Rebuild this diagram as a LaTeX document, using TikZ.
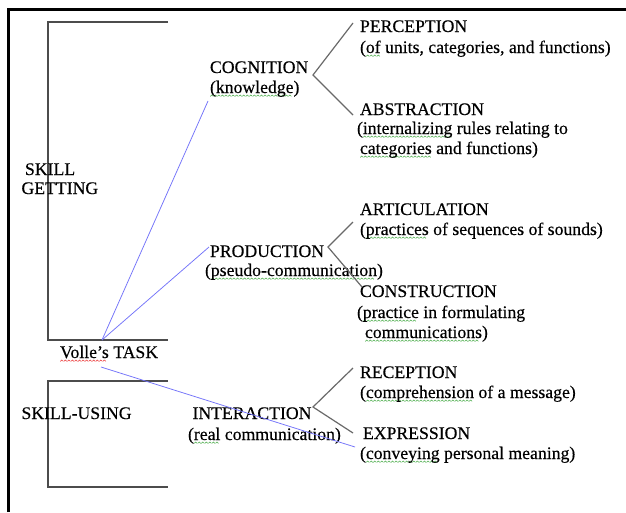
\documentclass[tikz,border=0pt]{standalone}
\usepackage{fontspec}
\setmainfont{Liberation Serif}[FakeBold=0.35]
\definecolor{sqgreen}{RGB}{80,175,80}
\definecolor{sqred}{RGB}{235,60,60}
\definecolor{linkblue}{RGB}{115,115,250}
\definecolor{forkgray}{RGB}{105,105,105}
\newsavebox\gwave
\newsavebox\rwave
\newcommand\makewave[2]{\sbox#1{\begin{pgfpicture}\pgfsetlinewidth{0.55pt}\pgfsetstrokecolor{#2}%
  \pgfpathmoveto{\pgfpoint{0pt}{0pt}}\pgfpathlineto{\pgfpoint{1.5pt}{1.3pt}}\pgfpathlineto{\pgfpoint{3pt}{0pt}}%
  \pgfusepath{stroke}\end{pgfpicture}}}
\newcommand\sqline[2]{\setbox0\hbox{#2}\rlap{\lower3.6pt\hbox to \wd0{\leaders\copy#1\hfill}}\box0\relax}
\newcommand\gsq[1]{\sqline\gwave{#1}}
\newcommand\rsq[1]{\sqline\rwave{#1}}
\begin{document}
\makewave\gwave{sqgreen}\makewave\rwave{sqred}%
\begin{tikzpicture}[x=1pt,y=-1pt,
  txt/.style={anchor=base west, inner sep=0pt, outer sep=0pt, font=\fontsize{17.7}{20.5}\selectfont},
  frameline/.style={line width=3pt, draw=black},
  bracket/.style={line width=1.3pt, draw=black!70},
  fork/.style={line width=1.2pt, draw=forkgray},
  link/.style={line width=0.75pt, draw=linkblue}]
\useasboundingbox (0,0) rectangle (626,512);
\fill[white] (0,0) rectangle (626,512);
% outer frame
\draw[frameline] (8,512) -- (8,9) -- (626,9);
% brackets
\draw[bracket] (168,22) -- (48,22) -- (48,340) -- (168,340);
\draw[bracket] (168,381) -- (48,381) -- (48,487) -- (168,487);
% left texts
\node[txt] (skill) at (25,175) {SKILL};
\node[txt] (getting) at (21.5,194) {GETTING};
\node[txt] (task) at (60,358) {\rsq{Volle’s} TASK};
\node[txt] (using) at (21.5,419) {SKILL-USING};
% middle texts
\node[txt] (cog) at (210,73) {COGNITION};
\node[txt] (cogs) at (210,93) {\gsq{(knowledge})};
\node[txt] (prod) at (210,257) {PRODUCTION};
\node[txt] (prods) at (205,276) {(\gsq{pseudo-communication})};
\node[txt] (inter) at (192.5,419) {INTERACTION};
\node[txt] (inters) at (188,440) {(\gsq{real} communication)};
% right texts
\node[txt] (perc) at (360,32) {PERCEPTION};
\node[txt] (percs) at (360,53) {(\gsq{of} units, categories, and functions)};
\node[txt] (abst) at (360,115) {ABSTRACTION};
\node[txt] (absts1) at (357,134) {(\gsq{internalizing} rules relating to};
\node[txt] (absts2) at (360,154) {\gsq{categories} and functions)};
\node[txt] (artic) at (360,215) {ARTICULATION};
\node[txt] (artics) at (360,235) {(\gsq{practices} of sequences of sounds)};
\node[txt] (constr) at (360,297) {CONSTRUCTION};
\node[txt] (constrs1) at (357,318) {(\gsq{practice} in formulating};
\node[txt] (constrs2) at (365,338) {\gsq{communications})};
\node[txt] (recep) at (360,378) {RECEPTION};
\node[txt] (receps) at (360,398) {(\gsq{comprehension} of a message)};
\node[txt] (expr) at (363,439) {EXPRESSION};
\node[txt] (exprs) at (360,459) {(\gsq{conveying} personal meaning)};
% fork points
\coordinate (cogF) at (313,75);
\coordinate (cogU) at (353,23);
\coordinate (cogL) at (353,115);
\coordinate (prodF) at (328,247);
\coordinate (prodU) at (353,222);
\coordinate (prodL) at (362,287);
\coordinate (intF) at (313,407);
\coordinate (intU) at (353,368);
\coordinate (intL) at (353,433);
\draw[fork] (cogU) -- (cogF) -- (cogL);
\draw[fork] (prodU) -- (prodF) -- (prodL);
\draw[fork] (intU) -- (intF) -- (intL);
% blue links
\coordinate (taskT) at (102,340);
\coordinate (taskB) at (101,367);
\coordinate (cogB) at (208,101);
\coordinate (prodB) at (209,247);
\coordinate (exprB) at (355,447);
\draw[link] (taskT) -- (cogB);
\draw[link] (taskT) -- (prodB);
\draw[link] (taskB) -- (exprB);
\end{tikzpicture}
\end{document}
